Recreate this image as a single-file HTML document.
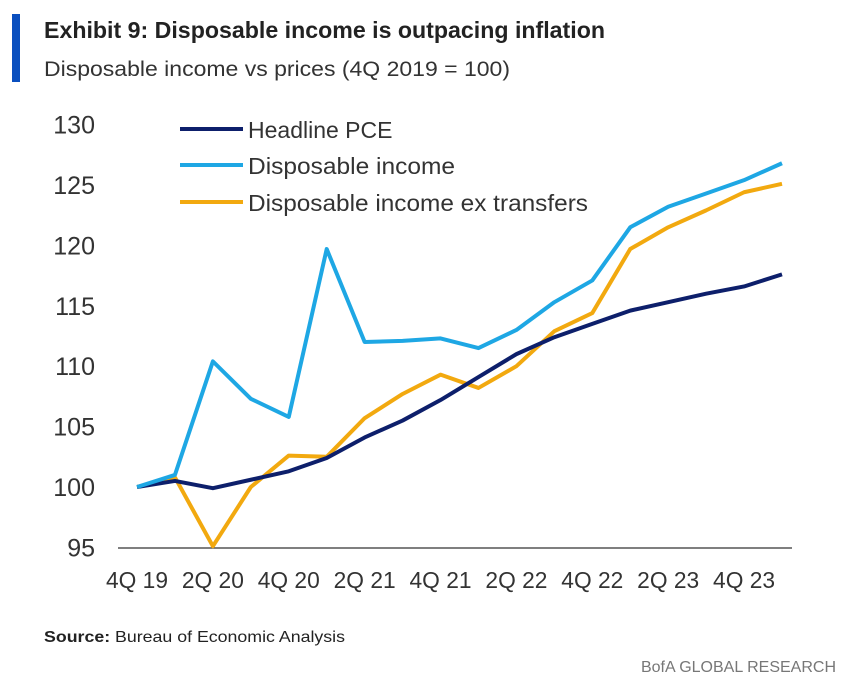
<!DOCTYPE html>
<html><head><meta charset="utf-8"><style>
body{margin:0;background:#fff;width:850px;height:686px;overflow:hidden;font-family:"Liberation Sans",sans-serif;}
</style></head><body>
<svg width="850" height="686" style="position:absolute;left:0;top:0">
<rect x="12" y="14" width="8" height="68" fill="#0a4fbf"/>
<text x="44" y="38" font-size="23" font-weight="bold" fill="#222" textLength="561" lengthAdjust="spacingAndGlyphs">Exhibit 9: Disposable income is outpacing inflation</text>
<text x="44" y="76" font-size="21" fill="#333" textLength="466" lengthAdjust="spacingAndGlyphs">Disposable income vs prices (4Q 2019 = 100)</text>
<g id="yticks"></g>
<g id="xticks"></g>
<line x1="118" y1="548" x2="792" y2="548" stroke="#333" stroke-width="1.2"/>
<g id="series"></g>
<g>
<line x1="180" y1="129" x2="243" y2="129" stroke="#0d1f6b" stroke-width="4"/>
<text x="248" y="138" font-size="23" fill="#333">Headline PCE</text>
<line x1="180" y1="165" x2="243" y2="165" stroke="#1ea7e4" stroke-width="4"/>
<text x="248" y="174" font-size="23" fill="#333" textLength="207" lengthAdjust="spacingAndGlyphs">Disposable income</text>
<line x1="180" y1="202" x2="243" y2="202" stroke="#f2a90f" stroke-width="4"/>
<text x="248" y="211" font-size="23" fill="#333" textLength="340" lengthAdjust="spacingAndGlyphs">Disposable income ex transfers</text>
</g>
<text x="44" y="642" font-size="16" fill="#222" textLength="301" lengthAdjust="spacingAndGlyphs"><tspan font-weight="bold">Source:</tspan> Bureau of Economic Analysis</text>
<text x="836" y="672" font-size="16" fill="#777" text-anchor="end">BofA GLOBAL RESEARCH</text>
</svg>
<script>
const categories=["4Q 19","1Q 20","2Q 20","3Q 20","4Q 20","1Q 21","2Q 21","3Q 21","4Q 21","1Q 22","2Q 22","3Q 22","4Q 22","1Q 23","2Q 23","3Q 23","4Q 23","1Q 24"];
const pce=[100,100.5,99.9,100.6,101.3,102.4,104.1,105.5,107.2,109.1,111,112.4,113.5,114.6,115.3,116,116.6,117.6];
const dispIncome=[100,101,110.4,107.3,105.8,119.7,112,112.1,112.3,111.5,113,115.3,117.1,121.5,123.2,124.3,125.4,126.8];
const exTransfers=[100,100.8,95.1,100,102.6,102.5,105.7,107.7,109.3,108.2,110,112.9,114.4,119.7,121.5,122.9,124.4,125.1];
const yTicks=[95,100,105,110,115,120,125,130];
const xLabels=["4Q 19","2Q 20","4Q 20","2Q 21","4Q 21","2Q 22","4Q 22","2Q 23","4Q 23"];
const NS="http://www.w3.org/2000/svg";
function x(i){return 137+i*(782-137)/(categories.length-1);}
function y(v){return 487-(v-100)*12.08;}
const yg=document.getElementById('yticks');
yTicks.forEach(t=>{const e=document.createElementNS(NS,'text');
e.setAttribute('x',95);e.setAttribute('y',y(t)+9);e.setAttribute('font-size','25');e.setAttribute('fill','#333');e.setAttribute('text-anchor','end');


e.textContent=t;yg.appendChild(e);});
const xg=document.getElementById('xticks');
xLabels.forEach(l=>{const i=categories.indexOf(l);const e=document.createElementNS(NS,'text');
e.setAttribute('x',x(i));e.setAttribute('y',588);e.setAttribute('font-size','23');e.setAttribute('fill','#333');e.setAttribute('text-anchor','middle');
e.setAttribute('textLength','62');e.setAttribute('lengthAdjust','spacingAndGlyphs');


e.textContent=l;xg.appendChild(e);});
const sg=document.getElementById('series');
[[exTransfers,'#f2a90f','line-di-ex-transfers'],[pce,'#0d1f6b','line-headline-pce'],[dispIncome,'#1ea7e4','line-disposable-income']].forEach(([d,c,n])=>{
const p=document.createElementNS(NS,'polyline');
p.setAttribute('points',d.map((v,i)=>x(i)+','+y(v)).join(' '));
p.setAttribute('fill','none');p.setAttribute('stroke',c);p.setAttribute('stroke-width','4');p.setAttribute('stroke-linejoin','round');


sg.appendChild(p);});
</script>
</body></html>
